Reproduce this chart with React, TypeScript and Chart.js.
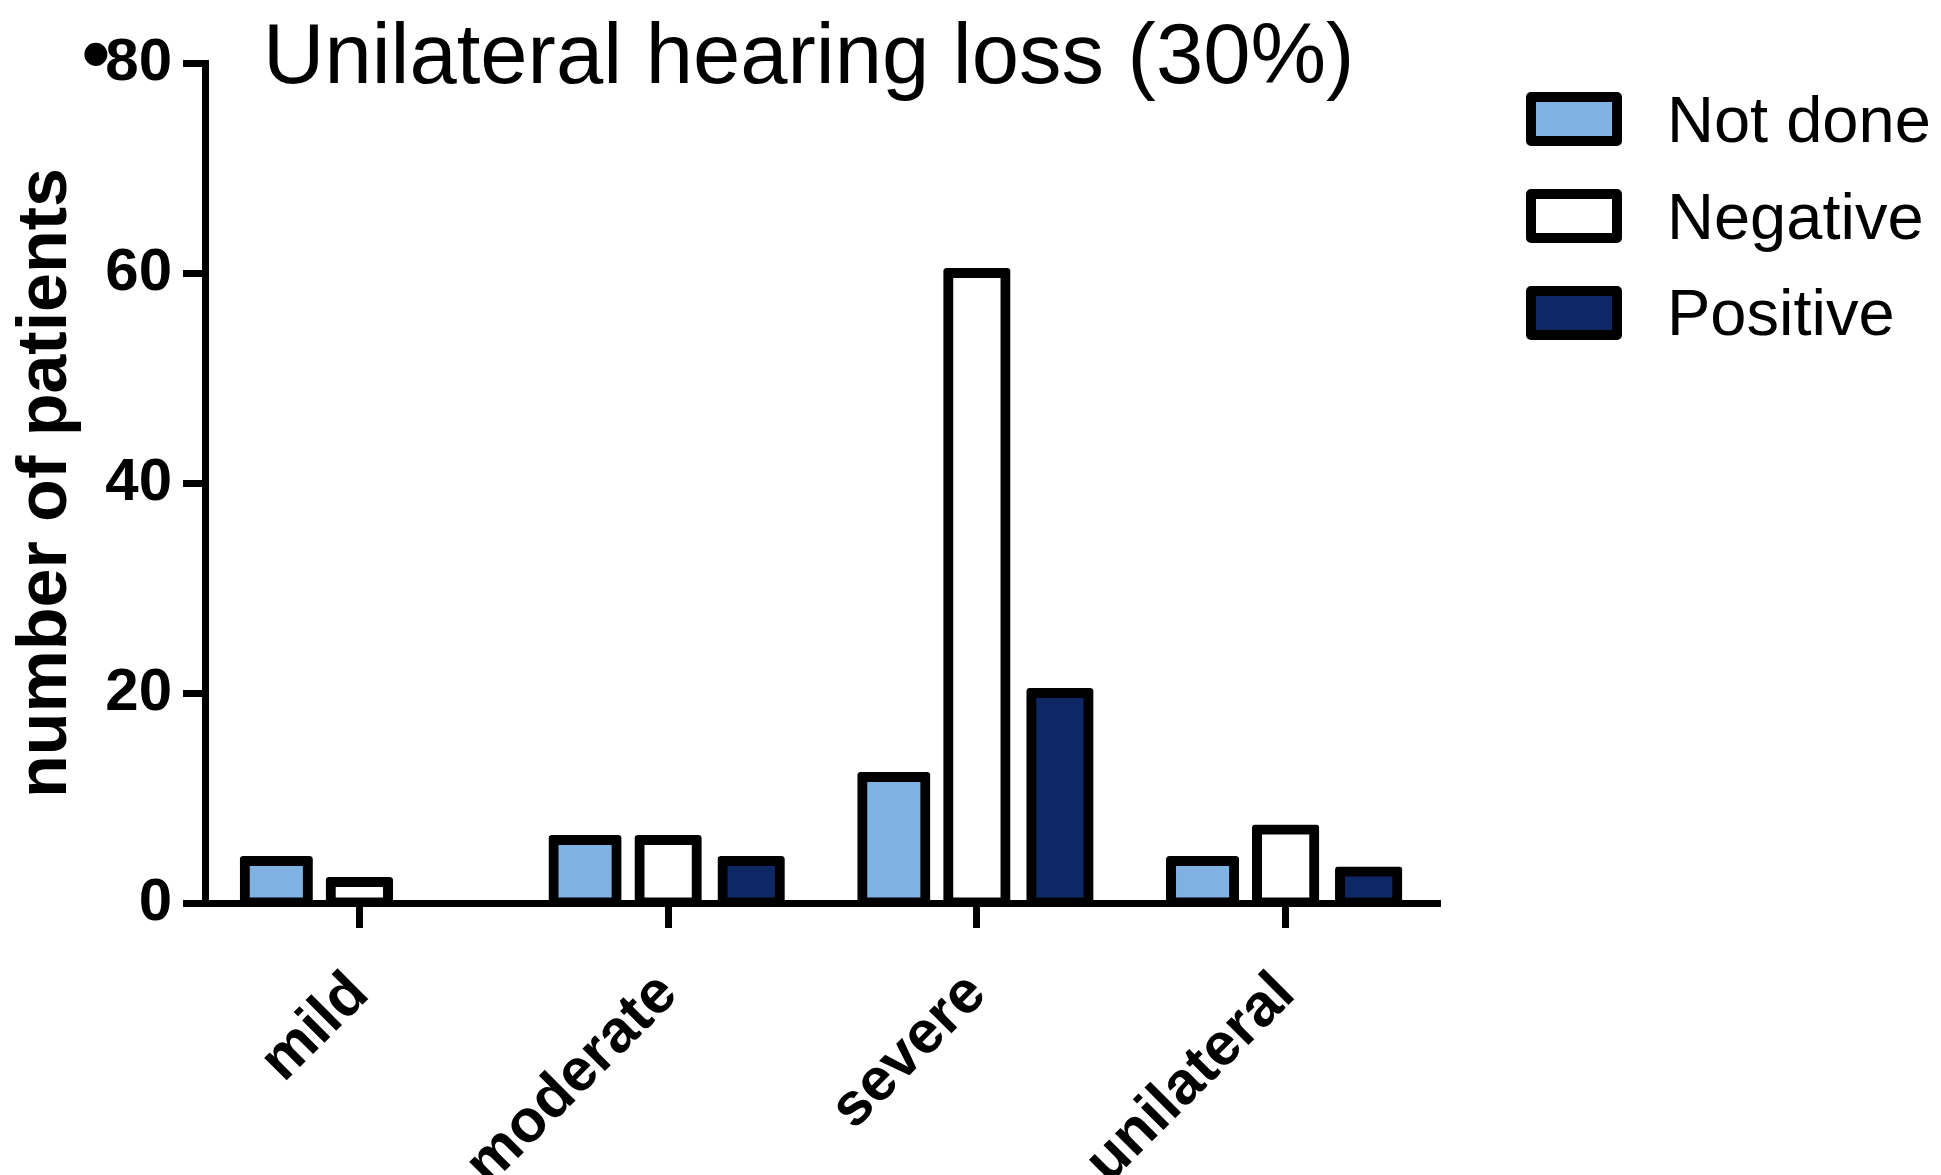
import React, { useEffect, useRef } from "react";
import { Chart, registerables } from "chart.js";

Chart.register(...registerables);

// Categories along the x axis
const categories = ["mild", "moderate", "severe", "unilateral"];

// Series (number of patients per category)
const seriesNames = ["Not done", "Negative", "Positive"];
const notDone = [4, 6, 12, 4];
const negative = [2, 6, 60, 7];
const positive = [0, 4, 20, 3];
const seriesFills = ["#7FB1E3", "#FFFFFF", "#0E2866"];

// Y axis tick values
const yTickValues = [0, 20, 40, 60, 80];

const titleText = "Unilateral hearing loss (30%)";
const bulletText = "\u2022";
const yAxisTitle = "number of patients";

const W = 1941;
const H = 1175;
const FONT = "'Liberation Sans', Arial, Helvetica, sans-serif";

// Plot frame in canvas pixels
const PLOT_LEFT = 205;
const PLOT_RIGHT = 1440;
const PLOT_TOP = 63;
const PLOT_BOTTOM = 903;

// Bar outlines are centred on the bar edge (half outside, half inside)
const BORDER = 10;
const HALF_BORDER = BORDER / 2;

export default function App() {
  const canvasRef = useRef<HTMLCanvasElement>(null);

  useEffect(() => {
    const canvas = canvasRef.current;
    if (!canvas) return;
    const series = [notDone, negative, positive];

    const chart = new Chart(canvas, {
      type: "bar",
      data: {
        labels: categories,
        datasets: series.map((values, i) => ({
          label: seriesNames[i],
          data: values,
          backgroundColor: seriesFills[i],
          borderColor: "#000000",
          borderWidth: BORDER,
          borderSkipped: false,
          borderRadius: 3,
          inflateAmount: (ctx: any) => (ctx.raw ? HALF_BORDER : 0),
          barPercentage: i === 0 ? 0.76 : 0.69,
          categoryPercentage: 0.807,
        })),
      },
      options: {
        responsive: false,
        animation: false,
        devicePixelRatio: 1,
        events: [],
        layout: {
          padding: { top: PLOT_TOP, left: 0, right: W - PLOT_RIGHT, bottom: 0 },
        },
        plugins: {
          legend: { display: false },
          tooltip: { enabled: false },
          title: { display: false },
        },
        scales: {
          x: {
            type: "category",
            offset: true,
            z: 1,
            grid: {
              display: true,
              drawOnChartArea: false,
              drawTicks: true,
              tickLength: 25,
              tickWidth: 7,
              tickColor: "#000000",
              offset: false,
            },
            border: { display: true, width: 7, color: "#000000" },
            ticks: {
              autoSkip: false,
              maxRotation: 45,
              minRotation: 45,
              padding: 31,
              labelOffset: 0,
              color: "#000000",
              font: { family: FONT, size: 60, weight: "bold" },
            },
            afterFit: (scale: any) => {
              scale.height = H - PLOT_BOTTOM;
            },
          },
          y: {
            min: yTickValues[0],
            max: yTickValues[yTickValues.length - 1],
            z: 1,
            afterBuildTicks: (scale: any) => {
              scale.ticks = yTickValues.map((v) => ({ value: v }));
            },
            grid: {
              display: true,
              drawOnChartArea: false,
              drawTicks: true,
              tickLength: 22,
              tickWidth: 7,
              tickColor: "#000000",
            },
            border: { display: true, width: 7, color: "#000000" },
            ticks: {
              padding: 11,
              color: "#000000",
              font: { family: FONT, size: 60, weight: "bold" },
            },
            title: {
              display: true,
              text: yAxisTitle,
              color: "#000000",
              font: { family: FONT, size: 70, weight: "bold" },
              padding: { top: 5, bottom: 0 },
            },
            afterFit: (scale: any) => {
              scale.width = PLOT_LEFT;
            },
          },
        },
      } as any,
    });

    return () => chart.destroy();
  }, []);

  const fixed = { position: "fixed" as const, whiteSpace: "nowrap" as const, color: "#000000" };

  return (
    <div>
      <canvas
        ref={canvasRef}
        width={W}
        height={H}
        style={{ position: "fixed", left: 0, top: 0, width: W, height: H }}
      />
      <div style={{ ...fixed, left: 81, top: 11, font: `85px ${FONT}`, lineHeight: "85px" }}>
        {bulletText}
      </div>
      <div style={{ ...fixed, left: 263, top: 11, font: `85px ${FONT}`, lineHeight: "85px" }}>
        {titleText}
      </div>
      {seriesNames.map((name, i) => (
        <React.Fragment key={name}>
          <div
            style={{
              position: "fixed",
              left: 1526,
              top: 92 + i * 97,
              width: 96,
              height: 54,
              boxSizing: "border-box",
              border: "10px solid #000000",
              borderRadius: 5,
              background: seriesFills[i],
            }}
          />
          <div style={{ ...fixed, left: 1667, top: 87 + i * 96.5, font: `65px ${FONT}`, lineHeight: "65px" }}>
            {name}
          </div>
        </React.Fragment>
      ))}
    </div>
  );
}
